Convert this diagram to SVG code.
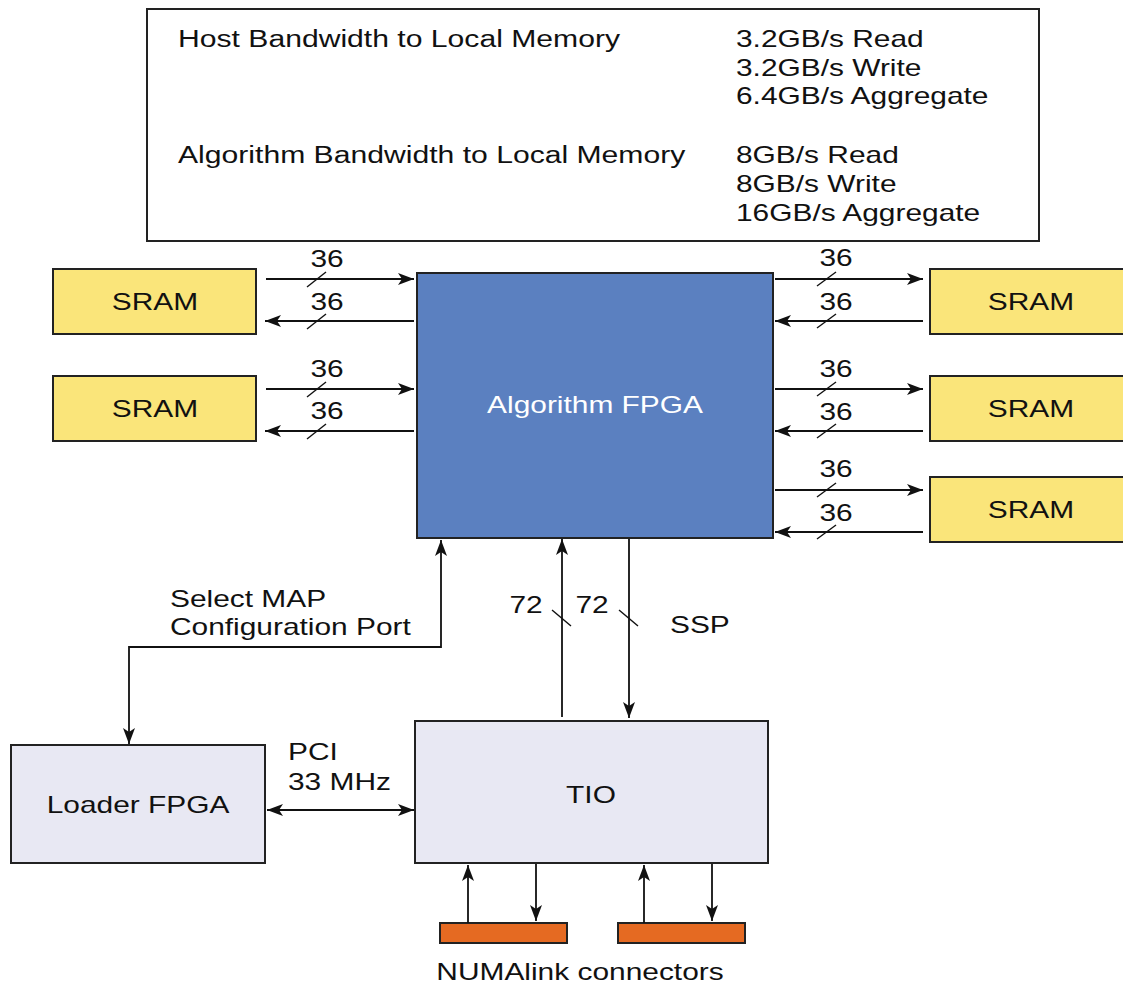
<svg xmlns="http://www.w3.org/2000/svg" width="1123" height="986" viewBox="0 0 1123 986">
<defs>
<style>
.t{font-family:"Liberation Sans",Arial,sans-serif;font-size:23px;fill:#111}
.m{text-anchor:middle}
.w{fill:#fff}
.box{stroke:#222;stroke-width:2}
.sram{fill:#FAE57A}
.lt{fill:#E8E8F3}
.fpga{fill:#5B80C0}
.orange{fill:#E56A22}
.ln{stroke:#111;stroke-width:1.8;fill:none}
.sl{stroke:#111;stroke-width:1.4}
</style>
<marker id="ah" viewBox="0 0 16 12" refX="16" refY="6" markerWidth="16" markerHeight="12" markerUnits="userSpaceOnUse" orient="auto-start-reverse">
<path d="M0,0 L16,6 L0,12 L4,6 z" fill="#111"/>
</marker>
</defs>
<rect width="1123" height="986" fill="#fff"/>

<g id="bandwidth-table">
<rect x="147" y="9" width="892" height="232" fill="#fff" class="box"/>
<text class="t" transform="translate(178 47) scale(1.31 1)">Host Bandwidth to Local Memory</text>
<text class="t" transform="translate(178 163) scale(1.31 1)">Algorithm Bandwidth to Local Memory</text>
<text class="t" transform="translate(736 47) scale(1.3 1)">3.2GB/s Read</text>
<text class="t" transform="translate(736 75.5) scale(1.3 1)">3.2GB/s Write</text>
<text class="t" transform="translate(736 104) scale(1.3 1)">6.4GB/s Aggregate</text>
<text class="t" transform="translate(736 163) scale(1.3 1)">8GB/s Read</text>
<text class="t" transform="translate(736 192) scale(1.3 1)">8GB/s Write</text>
<text class="t" transform="translate(736 221) scale(1.3 1)">16GB/s Aggregate</text>
</g>

<g id="sram-l1"><rect x="53" y="269" width="203" height="65" class="box sram"/><text class="t m" transform="translate(155 310) scale(1.3 1)">SRAM</text></g>
<g id="sram-l2"><rect x="53" y="376" width="203" height="65" class="box sram"/><text class="t m" transform="translate(155 417) scale(1.3 1)">SRAM</text></g>
<g id="sram-r1"><rect x="930" y="269" width="203" height="65" class="box sram"/><text class="t m" transform="translate(1031 310) scale(1.3 1)">SRAM</text></g>
<g id="sram-r2"><rect x="930" y="376" width="203" height="65" class="box sram"/><text class="t m" transform="translate(1031 417) scale(1.3 1)">SRAM</text></g>
<g id="sram-r3"><rect x="930" y="477" width="203" height="65" class="box sram"/><text class="t m" transform="translate(1031 518) scale(1.3 1)">SRAM</text></g>

<g id="algorithm-fpga"><rect x="417" y="273" width="356" height="265" class="box fpga"/><text class="t m w" transform="translate(595 413) scale(1.3 1)">Algorithm FPGA</text></g>

<g id="loader-fpga"><rect x="11" y="745" width="254" height="118" class="box lt"/><text class="t m" transform="translate(138 813) scale(1.3 1)">Loader FPGA</text></g>

<g id="tio"><rect x="415" y="721" width="353" height="142" class="box lt"/><text class="t m" transform="translate(591 803) scale(1.3 1)">TIO</text></g>

<g id="numalink-1"><rect x="440" y="923" width="127" height="20" class="box orange"/></g>
<g id="numalink-2"><rect x="618" y="923" width="127" height="20" class="box orange"/></g>
<text class="t m" transform="translate(580 980) scale(1.3 1)">NUMAlink connectors</text>

<g id="connectors">
<line x1="266" y1="279" x2="414" y2="279" class="ln" marker-end="url(#ah)"/>
<line x1="414" y1="321" x2="265" y2="321" class="ln" marker-end="url(#ah)"/>
<line x1="266" y1="389" x2="414" y2="389" class="ln" marker-end="url(#ah)"/>
<line x1="414" y1="431" x2="265" y2="431" class="ln" marker-end="url(#ah)"/>
<line x1="307" y1="287" x2="326" y2="272" class="sl"/>
<line x1="307" y1="329" x2="326" y2="314" class="sl"/>
<line x1="307" y1="397" x2="326" y2="382" class="sl"/>
<line x1="307" y1="439" x2="326" y2="424" class="sl"/>
<text class="t m" transform="translate(327 267) scale(1.3 1)">36</text>
<text class="t m" transform="translate(327 310) scale(1.3 1)">36</text>
<text class="t m" transform="translate(327 377) scale(1.3 1)">36</text>
<text class="t m" transform="translate(327 419) scale(1.3 1)">36</text>
<line x1="775" y1="279" x2="923" y2="279" class="ln" marker-end="url(#ah)"/>
<line x1="923" y1="321" x2="775" y2="321" class="ln" marker-end="url(#ah)"/>
<line x1="775" y1="389" x2="923" y2="389" class="ln" marker-end="url(#ah)"/>
<line x1="923" y1="431" x2="775" y2="431" class="ln" marker-end="url(#ah)"/>
<line x1="775" y1="490" x2="923" y2="490" class="ln" marker-end="url(#ah)"/>
<line x1="923" y1="532" x2="775" y2="532" class="ln" marker-end="url(#ah)"/>
<line x1="817" y1="286" x2="836" y2="272" class="sl"/>
<line x1="817" y1="328" x2="836" y2="314" class="sl"/>
<line x1="817" y1="396" x2="836" y2="382" class="sl"/>
<line x1="817" y1="438" x2="836" y2="424" class="sl"/>
<line x1="817" y1="497" x2="836" y2="483" class="sl"/>
<line x1="817" y1="539" x2="836" y2="525" class="sl"/>
<text class="t m" transform="translate(836 266) scale(1.3 1)">36</text>
<text class="t m" transform="translate(836 310) scale(1.3 1)">36</text>
<text class="t m" transform="translate(836 377) scale(1.3 1)">36</text>
<text class="t m" transform="translate(836 420) scale(1.3 1)">36</text>
<text class="t m" transform="translate(836 477) scale(1.3 1)">36</text>
<text class="t m" transform="translate(836 521) scale(1.3 1)">36</text>
<polyline points="129,647 441,647 441,540" class="ln" marker-end="url(#ah)"/>
<polyline points="441,647 129,647 129,744" class="ln" marker-end="url(#ah)"/>
<text class="t" transform="translate(170 607) scale(1.3 1)">Select MAP</text>
<text class="t" transform="translate(170 635) scale(1.3 1)">Configuration Port</text>
<line x1="562" y1="717" x2="562" y2="539" class="ln" marker-end="url(#ah)"/>
<line x1="629" y1="539" x2="629" y2="718" class="ln" marker-end="url(#ah)"/>
<line x1="552" y1="610" x2="571" y2="626" class="sl"/>
<line x1="619" y1="610" x2="638" y2="626" class="sl"/>
<text class="t m" transform="translate(526 613) scale(1.3 1)">72</text>
<text class="t m" transform="translate(592 613) scale(1.3 1)">72</text>
<text class="t" transform="translate(670 633) scale(1.3 1)">SSP</text>
<line x1="267" y1="810" x2="414" y2="810" class="ln" marker-start="url(#ah)" marker-end="url(#ah)"/>
<text class="t" transform="translate(288 760) scale(1.3 1)">PCI</text>
<text class="t" transform="translate(288 790) scale(1.3 1)">33 MHz</text>
<line x1="468" y1="923" x2="468" y2="865" class="ln" marker-end="url(#ah)"/>
<line x1="536" y1="864" x2="536" y2="921" class="ln" marker-end="url(#ah)"/>
<line x1="644" y1="923" x2="644" y2="865" class="ln" marker-end="url(#ah)"/>
<line x1="712" y1="864" x2="712" y2="921" class="ln" marker-end="url(#ah)"/>
</g>
</svg>
